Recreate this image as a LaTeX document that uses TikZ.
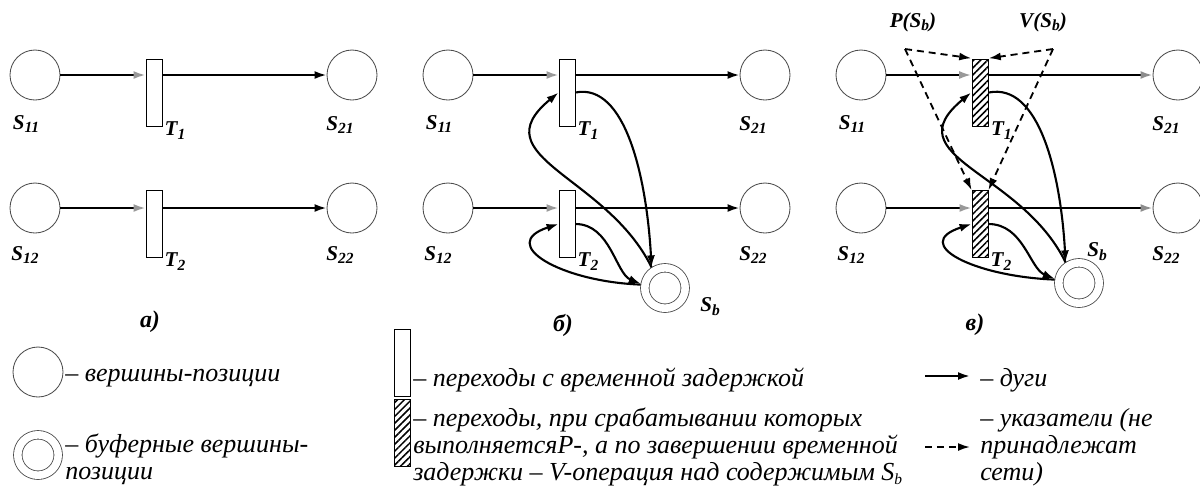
\documentclass[tikz,border=0pt]{standalone}
\usepackage{fontspec}
\setmainfont{Liberation Serif}
\usetikzlibrary{arrows.meta,patterns.meta}

\newcommand\lsub[1]{\raisebox{-0.4ex}{\fontsize{11}{11}\selectfont #1}}

\tikzset{
  place/.style={circle,draw=black!70,line width=0.6pt,minimum size=12.5mm,inner sep=0pt},
  bplace/.style={circle,draw=black!70,line width=0.6pt,double,double distance=1.9mm,
    minimum size=10.1mm,inner sep=0pt,outer sep=1.1mm},
  trans/.style={rectangle,draw,line width=0.6pt,minimum width=4mm,minimum height=16.75mm,inner sep=0pt},
  htrans/.style={trans,pattern={Lines[angle=45,distance=3.5pt,line width=1.1pt]}},
  arc/.style={line width=1.5pt,-{Latex[length=3mm,width=2mm]}},
  ptr/.style={arc,line width=1.3pt,dash pattern=on 5pt off 3.5pt},
  lbl/.style={font=\fontsize{15}{15}\selectfont\bfseries\itshape,inner sep=0pt},
  txt/.style={font=\fontsize{18.5}{19.2}\selectfont\itshape,inner sep=0pt,align=left,anchor=base west}
}

\begin{document}
\begin{tikzpicture}[x=0.25mm,y=-0.25mm]
\useasboundingbox (0,0) rectangle (1200,491);

% the three nets a), b), c)
\foreach \p/\dx/\tr/\tc in {a/0/trans/black,b/413/trans/black,c/826/htrans/black!45}{
  \node[place] (s11\p) at (35+\dx,75) {};
  \node[place] (s21\p) at (352+\dx,75) {};
  \node[place] (s12\p) at (35+\dx,208) {};
  \node[place] (s22\p) at (352+\dx,208) {};
  \node[\tr] (t1\p) at (154+\dx,92.5) {};
  \node[\tr] (t2\p) at (154+\dx,224) {};

  \draw[line width=1.5pt,-{Latex[length=3mm,width=2mm,color=black!40]}] (s11\p) -- (s11\p -| t1\p.west);
  \draw[line width=1.5pt,-{Latex[length=3mm,width=2mm,color=black!40]}] (s12\p) -- (s12\p -| t2\p.west);
  \draw[line width=1.5pt,-{Latex[length=3mm,width=2mm,color=\tc]}] (t1\p.east |- s21\p) -- (s21\p);
  \draw[line width=1.5pt,-{Latex[length=3mm,width=2mm,color=\tc]}] (t2\p.east |- s22\p) -- (s22\p);

  \node[lbl] at ([shift={(-9,49)}]s11\p) {S\lsub{11}};
  \node[lbl] at ([shift={(-12,50)}]s21\p) {S\lsub{21}};
  \node[lbl] at ([shift={(-10,47)}]s12\p) {S\lsub{12}};
  \node[lbl] at ([shift={(-12,47)}]s22\p) {S\lsub{22}};
  \node[lbl,anchor=west] at ([shift={(2,4)}]t1\p.south east) {T\lsub{1}};
  \node[lbl,anchor=west] at ([shift={(2,4)}]t2\p.south east) {T\lsub{2}};
}

\node[lbl,font=\fontsize{17}{17}\selectfont\bfseries\itshape] at (150,322) {а)};
\node[lbl,font=\fontsize{17}{17}\selectfont\bfseries\itshape] at (563,325) {б)};
\node[lbl,font=\fontsize{17}{17}\selectfont\bfseries\itshape] at (975,325) {в)};

% buffer place S_b
\node[bplace] (sbb) at (665,288) {};
\node[bplace] (sbc) at (1079,283) {};
\node[lbl] at (710,307) {S\lsub{b}};
\node[lbl] at (1097,252) {S\lsub{b}};

\foreach \p in {b,c}{
  \draw[arc] (t1\p.east) .. controls +(50,-10) and +(-5,-90) .. (sb\p.123);
  \draw[arc] (sb\p.123) .. controls +(-45,-92) and +(-79,65) .. (t1\p.west);
  \draw[arc] (t2\p.east) .. controls +(35,0) and +(-25,-10) .. (sb\p.170);
  \draw[arc] (sb\p.172) .. controls +(-80,-3) and +(-62,20) .. (t2\p.west);
}

% pointers P(S_b), V(S_b)
\coordinate (pc) at (905,49);
\coordinate (vc) at (1053,49);
\node[lbl] at (913,22) {P(S\lsub{b})};
\node[lbl] at (1043,22) {V(S\lsub{b})};
\draw[ptr] (pc) -- (t1c.north west);
\draw[ptr] (pc) -- (t2c.north west);
\draw[ptr] (vc) -- (t1c.north east);
\draw[ptr] (vc) -- (t2c.north east);

% legend
\node[place] (lgp) at (38,372) {};
\node[txt] at (65,381) {– вершины-позиции};
\node[bplace] (lgb) at (38,455) {};
\node[txt] at (65,479) {– буферные вершины-\\позиции};

\node[trans] (lgt) at (402,363) {};
\node[htrans] (lgh) at (402,433) {};
\node[txt] at (413,386) {– переходы с временной задержкой};
\node[txt] at (413,480) {– переходы, при срабатывании которых\\выполняетсяP-, а по завершении временной\\задержки – V-операция над содержимым S\lsub{b}};

\coordinate (arcl) at (925,376);
\coordinate (arcr) at (970,376);
\draw[arc] (arcl) -- (arcr);
\node[txt] at (980,386) {– дуги};
\coordinate (ptrl) at (925,447);
\coordinate (ptrr) at (970,447);
\draw[ptr] (ptrl) -- (ptrr);
\node[txt] at (980,480) {– указатели (не\\принадлежат\\сети)};

\end{tikzpicture}
\end{document}
